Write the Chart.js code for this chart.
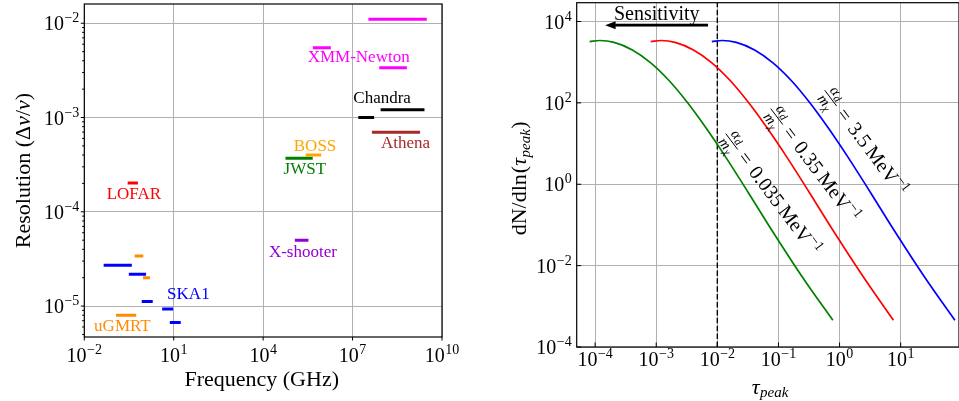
<!DOCTYPE html>
<html>
<head>
<meta charset="utf-8">
<script src="https://cdn.jsdelivr.net/npm/chart.js@4.4.1/dist/chart.umd.min.js"></script>
<style>
  html, body { margin: 0; padding: 0; background: #fff; }
  #wrap { position: relative; width: 959px; height: 401px; overflow: hidden; }
  .panel { position: absolute; top: 0; height: 401px; width: 480px; }
  .panel canvas { display: block; }
</style>
</head>
<body>
<div id="wrap">
  <div class="panel" style="left:0"><canvas id="res-chart" width="480" height="401"></canvas></div>
  <div class="panel" style="left:480px"><canvas id="tau-chart" width="480" height="401"></canvas></div>
</div>
<script>
const SERIF = '"Liberation Serif", "Times New Roman", serif';

// ---------- Left panel: spectral resolution of instruments ----------
// one entry per horizontal band: frequency range (GHz) and resolution
const bandFreqLo = [3.8e7, 5.2e5, 8.8e7, 9.8e7, 1.75e7, 5.0e7, 3.0e5, 6.3e4, 0.32, 1.3e5, 0.55, 0.05, 0.35, 1.05, 0.95, 4.6, 0.13, 8.3];
const bandFreqHi = [2.75e9, 1.66e6, 5.9e8, 2.3e9, 4.7e7, 1.64e9, 7.9e5, 4.1e5, 0.56, 2.95e5, 0.85, 0.35, 1.05, 1.42, 1.76, 8.5, 0.49, 15.3];
const bandRes = [1.1e-2, 5.5e-3, 3.38e-3, 1.21e-3, 1.0e-3, 6.98e-4, 4.0e-4, 3.7e-4, 2.02e-4, 4.99e-5, 3.4e-5, 2.71e-5, 2.17e-5, 2.0e-5, 1.12e-5, 9.3e-6, 8.0e-6, 6.7e-6];
const bandInstrument = ['XMM-Newton', 'XMM-Newton', 'XMM-Newton', 'Chandra', 'Chandra', 'Athena', 'BOSS', 'JWST', 'LOFAR', 'X-shooter', 'uGMRT', 'SKA1', 'SKA1', 'uGMRT', 'SKA1', 'SKA1', 'uGMRT', 'SKA1'];

// instrument names and where their text label sits (GHz, resolution)
const instNames = ['XMM-Newton', 'Chandra', 'Athena', 'BOSS', 'JWST', 'LOFAR', 'X-shooter', 'SKA1', 'uGMRT'];
const instLabelFreq = [1.6e7, 9.8e7, 6.0e8, 5.5e5, 2.5e5, 0.46, 2.15e5, 31, 0.19];
const instLabelRes = [3.84e-3, 1.42e-3, 4.72e-4, 4.46e-4, 2.5e-4, 1.36e-4, 3.34e-5, 1.2e-5, 5.45e-6];
const instColors = ['#ff00ff', '#000000', '#a52a2a', '#ffa500', '#008000', '#ff0000', '#9400d3', '#0000ff', '#ff8c00'];

const freqTickExp = [-2, 1, 4, 7, 10];
const resTickExp = [-5, -4, -3, -2];

// ---------- Right panel: dN/dln(tau_peak) ----------
const couplingValues = ['0.035', '0.35', '3.5'];
const tauGreen = [8.13e-5, 1.2e-4, 2.04e-4, 4.07e-4, 8.13e-4, 1.62e-3, 3.24e-3, 6.46e-3, 1.29e-2, 3.24e-2, 8.13e-2, 2.57e-1, 7.76e-1];
const dnGreen = [3.22e3, 3.41e3, 3.07e3, 2.0e3, 9.66e2, 3.55e2, 1.02e2, 24.8, 5.35, 0.612, 6.71e-2, 4.75e-3, 4.54e-4];
const tauRed = [8.13e-4, 1.2e-3, 2.04e-3, 4.07e-3, 8.13e-3, 1.62e-2, 3.24e-2, 6.46e-2, 1.29e-1, 3.24e-1, 8.13e-1, 2.57, 7.6];
const dnRed = [3.22e3, 3.41e3, 3.07e3, 2.0e3, 9.66e2, 3.55e2, 1.02e2, 24.8, 5.35, 0.612, 6.71e-2, 4.75e-3, 4.54e-4];
const tauBlue = [8.13e-3, 1.2e-2, 2.04e-2, 4.07e-2, 8.13e-2, 1.62e-1, 3.24e-1, 6.46e-1, 1.29, 3.24, 8.13, 25.7, 77];
const dnBlue = [3.22e3, 3.41e3, 3.07e3, 2.0e3, 9.66e2, 3.55e2, 1.02e2, 24.8, 5.35, 0.612, 6.71e-2, 4.75e-3, 4.54e-4];

// where each coupling label (fraction centre) is placed
const couplingLabelTau = [0.0172, 0.0938, 0.716];
const couplingLabelDn = [11.2, 46.1, 130.6];

const sensitivityTau = 1e-2;
const arrowTau = [7.05e-3, 1.46e-4];
const arrowDn = 8.15e3;
const sensitivityTextAt = [1.02e-3, 1.06e4];

const tauTickExp = [-4, -3, -2, -1, 0, 1];
const dnTickExp = [-4, -2, 0, 2, 4];

// ---------- helpers ----------
function fontOf(size, italic) {
  return (italic ? 'italic ' : '') + size + 'px ' + SERIF;
}

// parts: [text, size, italic, dy, gapAfter]
function drawRich(ctx, parts, x, y, align) {
  let total = 0;
  parts.forEach(p => {
    ctx.font = fontOf(p[1], p[2]);
    total += ctx.measureText(p[0]).width + (p[4] || 0);
  });
  let cx = align === 'center' ? x - total / 2 : align === 'right' ? x - total : x;
  ctx.textAlign = 'left';
  ctx.textBaseline = 'alphabetic';
  parts.forEach(p => {
    ctx.font = fontOf(p[1], p[2]);
    ctx.fillText(p[0], cx, y + (p[3] || 0));
    cx += ctx.measureText(p[0]).width + (p[4] || 0);
  });
}

function powParts(e) {
  return [['10', 20, false, 0, 0.5], [(e < 0 ? '\u2212' : '') + Math.abs(e), 14, false, -8]];
}

function makeDecor(cfg) {
  return {
    id: 'decor',
    afterDraw(chart) {
      const ctx = chart.ctx, a = chart.chartArea;
      const xs = chart.scales.x, ys = chart.scales.y;
      ctx.save();
      ctx.strokeStyle = '#000';
      ctx.fillStyle = '#000';
      ctx.lineWidth = 1;
      const sgn = cfg.tickDir === 'in' ? -1 : 1;

      ctx.beginPath();
      cfg.xExp.forEach(e => {
        const px = xs.getPixelForValue(Math.pow(10, e));
        ctx.moveTo(px, a.bottom);
        ctx.lineTo(px, a.bottom + sgn * cfg.tickLen);
      });
      cfg.yExp.forEach(e => {
        const py = ys.getPixelForValue(Math.pow(10, e));
        ctx.moveTo(a.left, py);
        ctx.lineTo(a.left - sgn * cfg.tickLen, py);
      });
      if (cfg.yMinor) {
        for (let d = -7; d <= 6; d++) {
          for (let k = 2; k <= 9; k++) {
            const v = k * Math.pow(10, d);
            if (v <= ys.min || v >= ys.max) continue;
            const py = ys.getPixelForValue(v);
            ctx.moveTo(a.left, py);
            ctx.lineTo(a.left - sgn * 2.2, py);
          }
        }
      }
      ctx.stroke();

      // spines
      ctx.lineWidth = 1.2;
      ctx.strokeRect(a.left, a.top, a.right - a.left, a.bottom - a.top);

      // tick labels
      cfg.xExp.forEach(e => {
        const px = xs.getPixelForValue(Math.pow(10, e));
        drawRich(ctx, powParts(e), px, a.bottom + cfg.xLabelDy, 'center');
      });
      cfg.yExp.forEach(e => {
        const py = ys.getPixelForValue(Math.pow(10, e));
        drawRich(ctx, powParts(e), a.left - cfg.yLabelGap, py + 7, 'right');
      });

      // axis titles
      drawRich(ctx, cfg.xTitle, cfg.xTitlePos[0], cfg.xTitlePos[1], 'center');
      ctx.save();
      ctx.translate(cfg.yTitlePos[0], cfg.yTitlePos[1]);
      ctx.rotate(-Math.PI / 2);
      drawRich(ctx, cfg.yTitle, 0, 0, 'center');
      ctx.restore();

      if (cfg.extra) cfg.extra(ctx, chart);
      ctx.restore();
    }
  };
}

function logAxis(min, max, exps) {
  return {
    type: 'logarithmic',
    min: min,
    max: max,
    afterBuildTicks(scale) { scale.ticks = exps.map(e => ({ value: Math.pow(10, e) })); },
    ticks: { display: false },
    grid: { color: '#b0b0b0', lineWidth: 1, drawTicks: false },
    border: { display: false }
  };
}

// ---------- left chart ----------
const resDatasets = bandRes.map((r, i) => ({
  data: [{ x: bandFreqLo[i], y: r }, { x: bandFreqHi[i], y: r }],
  borderColor: instColors[instNames.indexOf(bandInstrument[i])],
  borderWidth: 3,
  borderCapStyle: 'square',
  pointRadius: 0,
  fill: false
}));

const resX = logAxis(1e-2, 1e10, freqTickExp);
resX.afterFit = s => { s.height = 0; };
const resY = logAxis(4.7e-6, 1.6e-2, resTickExp);
resY.afterFit = s => { s.width = 0; };

new Chart(document.getElementById('res-chart'), {
  type: 'line',
  data: { datasets: resDatasets },
  options: {
    responsive: false,
    animation: false,
    layout: { padding: { left: 84.3, right: 38, top: 4, bottom: 64 } },
    plugins: { legend: { display: false }, tooltip: { enabled: false } },
    scales: { x: resX, y: resY }
  },
  plugins: [makeDecor({
    xExp: freqTickExp, yExp: resTickExp, tickDir: 'out', tickLen: 3.5, yMinor: true,
    xLabelDy: 24.5, yLabelGap: 5,
    xTitle: [['Frequency (GHz)', 22]],
    xTitlePos: [261.7, 385.5],
    yTitle: [['Resolution (', 22], ['\u0394', 22], ['\u03bd', 22, true], ['/', 22], ['\u03bd', 22, true], [')', 22]],
    yTitlePos: [30, 170.5],
    extra(ctx, chart) {
      const xs = chart.scales.x, ys = chart.scales.y;
      ctx.font = fontOf(17);
      ctx.textAlign = 'center';
      ctx.textBaseline = 'alphabetic';
      instNames.forEach((n, i) => {
        ctx.fillStyle = instColors[i];
        ctx.fillText(n, xs.getPixelForValue(instLabelFreq[i]), ys.getPixelForValue(instLabelRes[i]));
      });
    }
  })]
});

// ---------- right chart ----------
function curve(tau, dn, color) {
  return {
    data: tau.map((t, i) => ({ x: t, y: dn[i] })),
    borderColor: color,
    borderWidth: 1.7,
    pointRadius: 0,
    cubicInterpolationMode: 'monotone',
    fill: false
  };
}

const tauX = logAxis(5.0e-5, 90, tauTickExp);
tauX.afterFit = s => { s.height = 0; };
const tauY = logAxis(1e-4, 2.9e4, dnTickExp);
tauY.afterFit = s => { s.width = 0; };

function drawCoupling(ctx, px, py, value) {
  ctx.save();
  ctx.translate(px, py);
  ctx.rotate(53 * Math.PI / 180);
  ctx.fillStyle = '#000';
  ctx.strokeStyle = '#000';
  // fraction alpha_d / m_chi
  ctx.lineWidth = 0.9;
  ctx.beginPath();
  ctx.moveTo(-10, 0);
  ctx.lineTo(10, 0);
  ctx.stroke();
  drawRich(ctx, [['\u03b1', 15, true, 0, 0.5], ['d', 11, true, 2]], 0, -3.5, 'center');
  drawRich(ctx, [['m', 15, true, 0, 0.3], ['\u03c7', 11, true, 2]], 0, 11.5, 'center');
  // = value MeV^-1
  drawRich(ctx, [['=', 20, false, 0, 7], [value, 20, false, 0, 4], ['MeV', 20, false, 0, 0.5], ['\u22121', 14, false, -8]], 16, 5.5, 'left');
  ctx.restore();
}

new Chart(document.getElementById('tau-chart'), {
  type: 'line',
  data: {
    datasets: [
      curve(tauGreen, dnGreen, '#008000'),
      curve(tauRed, dnRed, '#ff0000'),
      curve(tauBlue, dnBlue, '#0000ff'),
      {
        data: [{ x: sensitivityTau, y: 1e-4 }, { x: sensitivityTau, y: 2.9e4 }],
        borderColor: '#000',
        borderWidth: 1.4,
        borderDash: [5.5, 2.4],
        pointRadius: 0,
        fill: false
      }
    ]
  },
  options: {
    responsive: false,
    animation: false,
    layout: { padding: { left: 96.7, right: 1, top: 2.7, bottom: 54 } },
    plugins: { legend: { display: false }, tooltip: { enabled: false } },
    scales: { x: tauX, y: tauY }
  },
  plugins: [makeDecor({
    xExp: tauTickExp, yExp: dnTickExp, tickDir: 'in', tickLen: 4.5, yMinor: false,
    xLabelDy: 19, yLabelGap: 5,
    xTitle: [['\u03c4', 22, true, 0, 0.5], ['peak', 15, true, 3.5]],
    xTitlePos: [290, 393.5],
    yTitle: [['dN/dln', 22, false, 0, 1], ['(', 22], ['\u03c4', 22, true, 0, 0.5], ['peak', 15, true, 3.5, 0.5], [')', 22]],
    yTitlePos: [46, 178.3],
    extra(ctx, chart) {
      const xs = chart.scales.x, ys = chart.scales.y;
      // sensitivity arrow
      const x0 = xs.getPixelForValue(arrowTau[0]);
      const x1 = xs.getPixelForValue(arrowTau[1]);
      const ay = ys.getPixelForValue(arrowDn);
      ctx.fillStyle = '#000';
      ctx.fillRect(x1 + 10, ay - 1.4, x0 - x1 - 10, 2.8);
      ctx.beginPath();
      ctx.moveTo(x1, ay);
      ctx.lineTo(x1 + 10.5, ay - 4);
      ctx.lineTo(x1 + 10.5, ay + 4);
      ctx.closePath();
      ctx.fill();
      ctx.font = fontOf(20);
      ctx.textAlign = 'center';
      ctx.textBaseline = 'alphabetic';
      ctx.fillText('Sensitivity', xs.getPixelForValue(sensitivityTextAt[0]), ys.getPixelForValue(sensitivityTextAt[1]));
      couplingValues.forEach((v, i) => {
        drawCoupling(ctx, xs.getPixelForValue(couplingLabelTau[i]), ys.getPixelForValue(couplingLabelDn[i]), v);
      });
    }
  })]
});
</script>
</body>
</html>
